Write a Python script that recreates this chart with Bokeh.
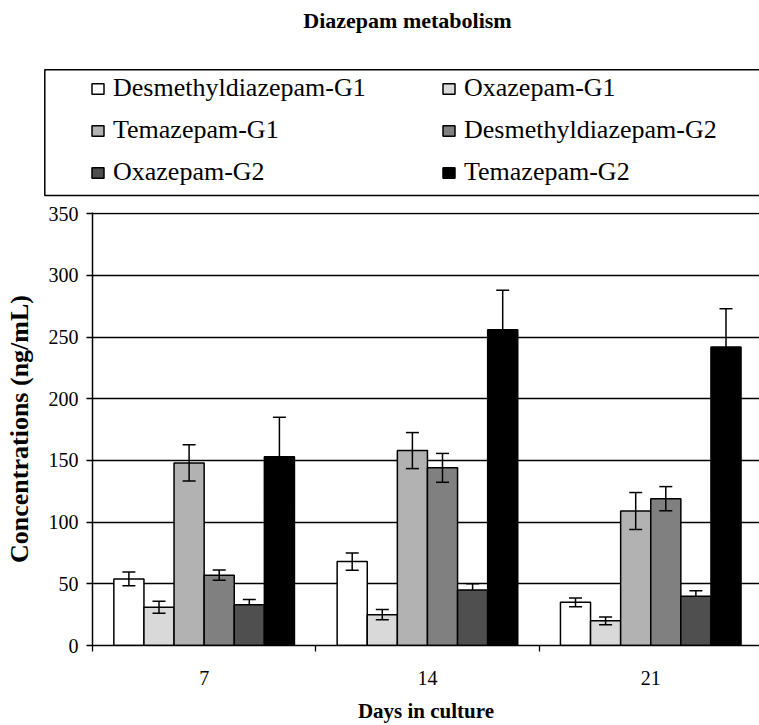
import numpy as np
from bokeh.plotting import figure
from bokeh.models import (ColumnDataSource, Range1d, FixedTicker, Whisker, TeeHead,
                          Legend, LegendItem, Label, BoxAnnotation)
from bokeh.embed import file_html
from bokeh.resources import INLINE

# ---------------- data ----------------
title_text = "Diazepam metabolism"
x_title = "Days in culture"
y_title = "Concentrations (ng/mL)"
days = ["7", "14", "21"]
series_names = ["Desmethyldiazepam-G1", "Oxazepam-G1", "Temazepam-G1",
                "Desmethyldiazepam-G2", "Oxazepam-G2", "Temazepam-G2"]
desm_g1 = [54, 68, 35]
desm_g1_err = [5.5, 7, 3.5]
oxa_g1 = [31, 25, 20]
oxa_g1_err = [4.8, 4.2, 3.2]
tem_g1 = [148, 158, 109]
tem_g1_err = [14.7, 14.6, 15]
desm_g2 = [57, 144, 119]
desm_g2_err = [4.2, 11.7, 9.8]
oxa_g2 = [33, 45, 40]
oxa_g2_err = [4.3, 5, 4.4]
tem_g2 = [153, 256, 242]
tem_g2_err = [32, 32, 31]
y_ticks = [0, 50, 100, 150, 200, 250, 300, 350]

values = [desm_g1, oxa_g1, tem_g1, desm_g2, oxa_g2, tem_g2]
errors = [desm_g1_err, oxa_g1_err, tem_g1_err, desm_g2_err, oxa_g2_err, tem_g2_err]
colors = ["#ffffff", "#d9d9d9", "#b2b2b2", "#808080", "#4f4f4f", "#000000"]
# dark bars hide the lower half of their error bar
err_level = ["overlay", "overlay", "overlay", "overlay", "underlay", "underlay"]

FONT = "Liberation Serif"
W = 759
TOP_H = 200
MAIN_H = 725 - TOP_H
LEFT, RIGHT, MTOP, BOTTOM = 92, 0, 12, 77
frame_w = W - LEFT - RIGHT
cat_px = 223.3
bar_w = 30.1 / cat_px

# ---------------- main chart ----------------
p = figure(width=W, height=MAIN_H, output_backend="svg", toolbar_location=None,
           x_range=Range1d(-0.5, -0.5 + frame_w / cat_px), y_range=Range1d(0, 351),
           min_border_left=LEFT, min_border_right=RIGHT,
           min_border_top=MTOP, min_border_bottom=BOTTOM,
           background_fill_color="white", border_fill_color="white")
p.outline_line_color = None

p.xgrid.visible = False
p.ygrid.ticker = FixedTicker(ticks=y_ticks)
p.ygrid.grid_line_color = "black"
p.ygrid.grid_line_width = 1.3

p.yaxis.ticker = FixedTicker(ticks=y_ticks)
p.yaxis.axis_line_color = "black"
p.yaxis.axis_line_width = 1.5
p.yaxis.major_tick_in = 0
p.yaxis.major_tick_out = 6
p.yaxis.major_tick_line_width = 1.3
p.yaxis.minor_tick_line_color = None
p.yaxis.major_label_standoff = 8
p.yaxis.major_label_text_font = FONT
p.yaxis.major_label_text_font_size = "20px"
p.yaxis.major_label_text_color = "black"
p.yaxis.axis_label = y_title
p.yaxis.axis_label_standoff = 12
p.yaxis.axis_label_text_font = FONT
p.yaxis.axis_label_text_font_style = "bold"
p.yaxis.axis_label_text_font_size = "26px"
p.yaxis.axis_label_text_color = "black"

n = len(days)
centers = np.arange(n, dtype=float)
p.xaxis.ticker = FixedTicker(ticks=list(centers),
                             minor_ticks=list(np.arange(n + 1) - 0.5))
p.xaxis.major_label_overrides = {i: d for i, d in enumerate(days)}
p.xaxis.axis_line_color = "black"
p.xaxis.axis_line_width = 1.5
p.xaxis.major_tick_in = 0
p.xaxis.major_tick_out = 0
p.xaxis.minor_tick_in = 0
p.xaxis.minor_tick_out = 6
p.xaxis.minor_tick_line_color = "black"
p.xaxis.minor_tick_line_width = 1.3
p.xaxis.major_label_standoff = 19
p.xaxis.major_label_text_font = FONT
p.xaxis.major_label_text_font_size = "20px"
p.xaxis.major_label_text_color = "black"
p.xaxis.axis_label = x_title
p.xaxis.axis_label_standoff = 11
p.xaxis.axis_label_text_font = FONT
p.xaxis.axis_label_text_font_style = "bold"
p.xaxis.axis_label_text_font_size = "21px"
p.xaxis.axis_label_text_color = "black"

# ---------------- header: title + legend ----------------
top = figure(width=W, height=TOP_H, output_backend="svg", toolbar_location=None,
             x_range=Range1d(0, W), y_range=Range1d(0, TOP_H),
             x_axis_location=None, y_axis_location=None, min_border=0,
             min_border_left=0, min_border_right=0, min_border_top=0, min_border_bottom=0,
             background_fill_color="white", border_fill_color="white")
top.outline_line_color = None
top.grid.visible = False

items = []
k = len(series_names)
for i, (name, vals, errs, col, lev) in enumerate(zip(series_names, values, errors, colors, err_level)):
    xs = centers + (i - (k - 1) / 2) * bar_w
    v = np.array(vals, dtype=float)
    e = np.array(errs, dtype=float)
    src = ColumnDataSource(dict(x=xs, top=v, upper=v + e, lower=v - e))
    p.vbar(x="x", top="top", width=bar_w, source=src,
           fill_color=col, line_color="black", line_width=1.5)
    wk = Whisker(source=src, base="x", upper="upper", lower="lower",
                 line_color="black", line_width=1.5, level=lev,
                 upper_head=TeeHead(size=13, line_color="black", line_width=1.5),
                 lower_head=TeeHead(size=13, line_color="black", line_width=1.5))
    p.add_layout(wk)
    # legend swatch only: hidden renderer in the header
    sw = top.vbar(x="x", top="top", width=bar_w, source=src, visible=False,
                  fill_color=col, line_color="black", line_width=1.5)
    items.append(LegendItem(label=name, renderers=[sw]))

box = BoxAnnotation(left=44.3, right=W + 5, top=TOP_H - 69.3, bottom=TOP_H - 195,
                    left_units="screen", right_units="screen",
                    top_units="screen", bottom_units="screen",
                    fill_alpha=0, line_color="black", line_alpha=1, line_width=1.5)
top.add_layout(box)

legend = Legend(items=items, location=(90, 13), orientation="horizontal", ncols=2,
                glyph_width=15, glyph_height=13, label_standoff=8,
                label_width=316, label_height=28, spacing=12, padding=0, margin=0,
                border_line_alpha=0, background_fill_alpha=0, inactive_fill_alpha=0,
                label_text_font=FONT, label_text_font_size="26px",
                label_text_color="black")
top.add_layout(legend, "center")

top.add_layout(Label(x=407, y=TOP_H - 20, x_units="screen", y_units="screen", text=title_text,
                     text_align="center", text_baseline="middle", text_font=FONT,
                     text_font_style="bold", text_font_size="22px", text_color="black"))

open("out.html", "w").write(file_html([top, p], INLINE))
